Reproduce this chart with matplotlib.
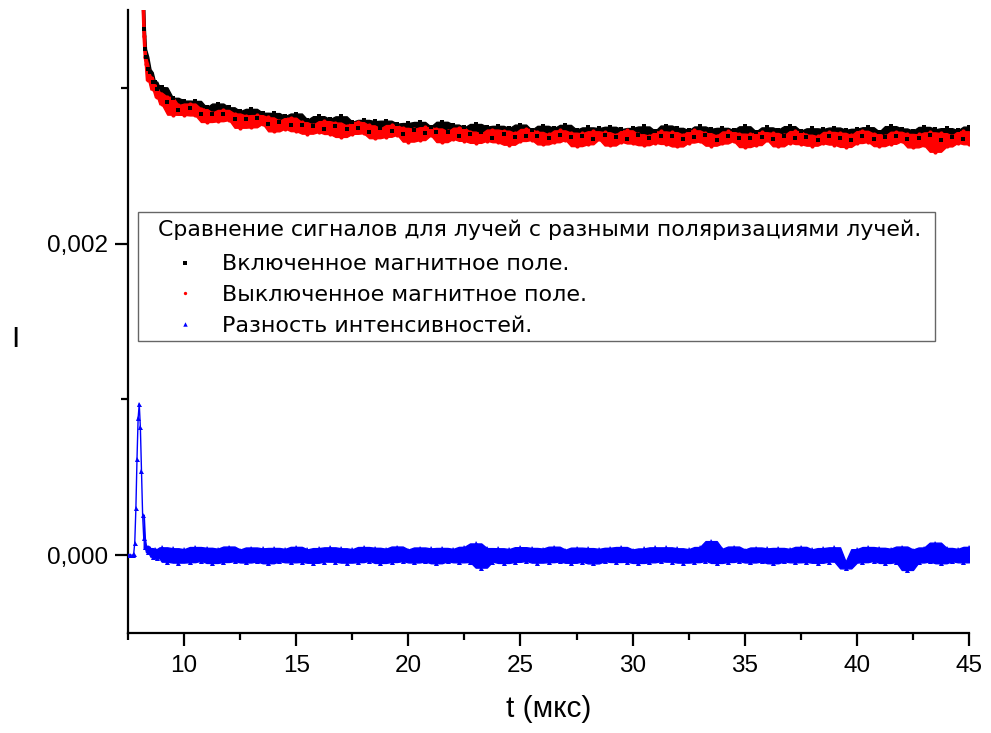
import matplotlib
matplotlib.use("Agg")
import matplotlib.pyplot as plt
from matplotlib.ticker import MultipleLocator, FuncFormatter
from matplotlib.patches import Rectangle
import numpy as np
import pandas as pd

plt.rcParams['font.family'] = ['Liberation Sans', 'DejaVu Sans']

# time, мкс (early part sampled finer around the pulse)
t_early = [7.5, 7.6, 7.7, 7.75, 7.8, 7.85, 7.9, 7.95, 8.0, 8.05, 8.1,
           8.15, 8.2, 8.25, 8.3, 8.4, 8.5, 8.6, 8.7, 8.8, 8.9]
t_late = [9.0, 9.25, 9.5, 9.75, 10.0, 10.25, 10.5, 10.75, 11.0, 11.25, 11.5, 11.75,
          12.0, 12.25, 12.5, 12.75, 13.0, 13.25, 13.5, 13.75, 14.0, 14.25, 14.5, 14.75,
          15.0, 15.25, 15.5, 15.75, 16.0, 16.25, 16.5, 16.75, 17.0, 17.25, 17.5, 17.75,
          18.0, 18.25, 18.5, 18.75, 19.0, 19.25, 19.5, 19.75, 20.0, 20.25, 20.5, 20.75,
          21.0, 21.25, 21.5, 21.75, 22.0, 22.25, 22.5, 22.75, 23.0, 23.25, 23.5, 23.75,
          24.0, 24.25, 24.5, 24.75, 25.0, 25.25, 25.5, 25.75, 26.0, 26.25, 26.5, 26.75,
          27.0, 27.25, 27.5, 27.75, 28.0, 28.25, 28.5, 28.75, 29.0, 29.25, 29.5, 29.75,
          30.0, 30.25, 30.5, 30.75, 31.0, 31.25, 31.5, 31.75, 32.0, 32.25, 32.5, 32.75,
          33.0, 33.25, 33.5, 33.75, 34.0, 34.25, 34.5, 34.75, 35.0, 35.25, 35.5, 35.75,
          36.0, 36.25, 36.5, 36.75, 37.0, 37.25, 37.5, 37.75, 38.0, 38.25, 38.5, 38.75,
          39.0, 39.25, 39.5, 39.75, 40.0, 40.25, 40.5, 40.75, 41.0, 41.25, 41.5, 41.75,
          42.0, 42.25, 42.5, 42.75, 43.0, 43.25, 43.5, 43.75, 44.0, 44.25, 44.5, 44.75,
          45.0]

# intensities in units of 1e-6
nan = float('nan')
on_early = [nan] * 10 + [3900, 3620, 3380, 3250, 3200, 3120, 3100, 3040, 3040, 2990, 3005]
on_late = [3003, 2910, 2936, 2860, 2918, 2869, 2916, 2835, 2874, 2834, 2899, 2829, 2875, 2802, 2850,
           2802, 2865, 2808, 2840, 2765, 2838, 2781, 2818, 2760, 2835, 2760, 2795, 2758, 2818, 2739,
           2799, 2757, 2817, 2738, 2782, 2742, 2794, 2718, 2786, 2741, 2789, 2722, 2770, 2706, 2774,
           2729, 2781, 2707, 2751, 2714, 2782, 2715, 2764, 2694, 2746, 2702, 2768, 2715, 2751, 2680,
           2756, 2701, 2741, 2686, 2764, 2691, 2729, 2694, 2756, 2679, 2741, 2700, 2762, 2685, 2731,
           2692, 2746, 2672, 2741, 2699, 2750, 2685, 2735, 2673, 2742, 2699, 2752, 2679, 2723, 2688,
           2758, 2693, 2743, 2674, 2727, 2684, 2752, 2700, 2737, 2666, 2743, 2689, 2729, 2675, 2753,
           2681, 2719, 2684, 2746, 2670, 2732, 2692, 2754, 2678, 2724, 2686, 2740, 2666, 2736, 2694,
           2745, 2680, 2730, 2667, 2737, 2694, 2747, 2674, 2719, 2684, 2754, 2689, 2739, 2671, 2724,
           2681, 2749, 2697, 2734, 2664, 2741, 2687, 2727, 2673, 2751]

off_early = [nan] * 10 + [3850, 3560, 3330, 3200, 3150, 3050, 3070, 2990, 3010, 2940, 2970]
off_late = [2895, 2942, 2828, 2889, 2827, 2899, 2823, 2867, 2781, 2841, 2786, 2858, 2794, 2835, 2744,
            2822, 2747, 2825, 2770, 2810, 2721, 2788, 2739, 2808, 2722, 2779, 2706, 2763, 2717, 2786,
            2704, 2777, 2685, 2757, 2705, 2781, 2709, 2759, 2677, 2739, 2686, 2761, 2699, 2743, 2655,
            2736, 2665, 2747, 2696, 2739, 2652, 2720, 2673, 2744, 2660, 2719, 2647, 2706, 2661, 2732,
            2651, 2725, 2635, 2709, 2659, 2736, 2666, 2717, 2637, 2701, 2651, 2727, 2667, 2712, 2626,
            2708, 2638, 2721, 2670, 2715, 2630, 2700, 2654, 2727, 2643, 2702, 2632, 2692, 2648, 2720,
            2640, 2715, 2624, 2699, 2649, 2727, 2657, 2709, 2629, 2693, 2643, 2720, 2660, 2706, 2620,
            2703, 2633, 2715, 2665, 2710, 2625, 2695, 2649, 2722, 2639, 2699, 2629, 2689, 2645, 2717,
            2636, 2711, 2621, 2696, 2646, 2724, 2654, 2706, 2626, 2691, 2641, 2718, 2658, 2704, 2618,
            2701, 2631, 2714, 2590, 2709, 2624, 2694, 2648, 2721, 2638]

diff_early = [0, 2, -2, 5, 80, 300, 620, 880, 970, 820, 540, 260, 110, 50, 60, 20, 45, -10, 40, -20, 35]
diff_late = [50, -42, 44, -48, 38, -45, 52, -36, 47, -50, 41, -44, 55, -38, 36,
             -47, 49, -40, 43, -52, 46, -39, 40, -46, 53, -43, 37, -49, 45, -41,
             50, -42, 44, -48, 38, -45, 52, -36, 47, -50, 41, -44, 55, -38, 36,
             -47, 49, -40, 43, -52, 46, -39, 40, -46, 53, -43, 75, -80, 45, -41,
             44, -50, 39, -43, 51, -37, 46, -48, 42, -45, 54, -40, 35, -49, 48,
             -41, 45, -53, 40, -38, 47, -44, 52, -42, 36, -50, 43, -46, 50, -39,
             50, -42, 44, -48, 38, -45, 52, -36, 90, -50, 41, -44, 55, -38, 36,
             -47, 49, -40, 43, -52, 46, -39, 40, -46, 53, -43, 37, -49, 45, -41,
             50, -42, -85, -48, 38, -45, 52, -36, 47, -50, 41, -44, 55, -95, 36,
             -47, 49, -40, 80, -52, 46, -39, 40, -46, 53]

t = np.array(t_early + t_late)
scale = 1e-6
I_on = np.array(on_early + on_late) * scale
I_off = np.array(off_early + off_late) * scale
I_diff = np.array(diff_early + diff_late) * scale


def envelope(y, w=3):
    # local min / max of neighbouring samples -> noise band
    r = pd.Series(y).rolling(w, center=True, min_periods=1)
    return r.min().values, r.max().values


fig = plt.figure(figsize=(9.91, 7.33), dpi=100)
ax = fig.add_axes([0.1292, 0.1364, 0.8486, 0.85])

lo, hi = envelope(I_on)
ax.fill_between(t, lo, hi, color='black', lw=1.0, edgecolor='black', zorder=2)
lo, hi = envelope(I_off)
ax.fill_between(t, lo, hi, color='red', lw=1.0, edgecolor='red', zorder=3)
lo, hi = envelope(I_diff)
ax.fill_between(t[12:], lo[12:], hi[12:], color='blue', lw=1.0, edgecolor='blue', zorder=3)

ax.plot(t, I_off, 'o', color='red', markersize=3.0, mew=0, zorder=4,
        label='Выключенное магнитное поле.')
ax.plot(t, I_on, 's', color='black', markersize=2.6, mew=0, zorder=5,
        label='Включенное магнитное поле.')
ax.plot(t, I_diff, '^', color='blue', markersize=3.6, mew=0, zorder=5,
        label='Разность интенсивностей.')
ax.plot(t[:13], I_diff[:13], '-', color='blue', lw=1.0, zorder=4)

ax.set_xlim(7.5, 45)
ax.set_ylim(-0.0005, 0.0035)

for side in ['top', 'right']:
    ax.spines[side].set_visible(False)
for side in ['left', 'bottom']:
    ax.spines[side].set_linewidth(1.6)

ax.xaxis.set_major_locator(MultipleLocator(5))
ax.xaxis.set_minor_locator(MultipleLocator(2.5))
ax.yaxis.set_major_locator(MultipleLocator(0.002))
ax.yaxis.set_minor_locator(MultipleLocator(0.001))
ax.yaxis.set_major_formatter(FuncFormatter(lambda v, p: ('%.3f' % v).replace('.', ',')))
ax.tick_params(which='major', length=9.5, width=1.6, labelsize=17.5, pad=6)
ax.tick_params(which='minor', length=5, width=1.6)
ax.tick_params(axis='y', which='major', pad=5)

ax.set_xlabel('t (мкс)', fontsize=21.5)
ax.xaxis.set_label_coords(0.5, -0.1)
ax.set_ylabel('I', fontsize=21.5, rotation=0, va='center', ha='center')
ax.yaxis.set_label_coords(-0.134, 0.472)

# legend frame
fig.patches.append(Rectangle((138 / 991, 1 - 341 / 733), (935 - 138) / 991, (341 - 212) / 733,
                             transform=fig.transFigure, facecolor='white', edgecolor='0.4',
                             lw=1.0, zorder=3))

handles, labels = ax.get_legend_handles_labels()
order = [1, 0, 2]
leg = fig.legend([handles[i] for i in order], [labels[i] for i in order],
                 title='Сравнение сигналов для лучей с разными поляризациями лучей.',
                 loc='upper left', bbox_to_anchor=(158 / 991, 1 - 220 / 733),
                 borderaxespad=0, borderpad=0, frameon=False,
                 prop={'family': 'DejaVu Sans', 'size': 16},
                 title_fontproperties={'family': 'DejaVu Sans', 'size': 15.8},
                 handlelength=2.45, handletextpad=0.45, labelspacing=0.48,
                 alignment='left')
leg.set_zorder(6)
leg._legend_box.sep = 10
for h, ms in zip(leg.legend_handles, [2.6, 2.4, 3.2]):
    h.set_markersize(ms)

fig.savefig('out.png', dpi=100)
